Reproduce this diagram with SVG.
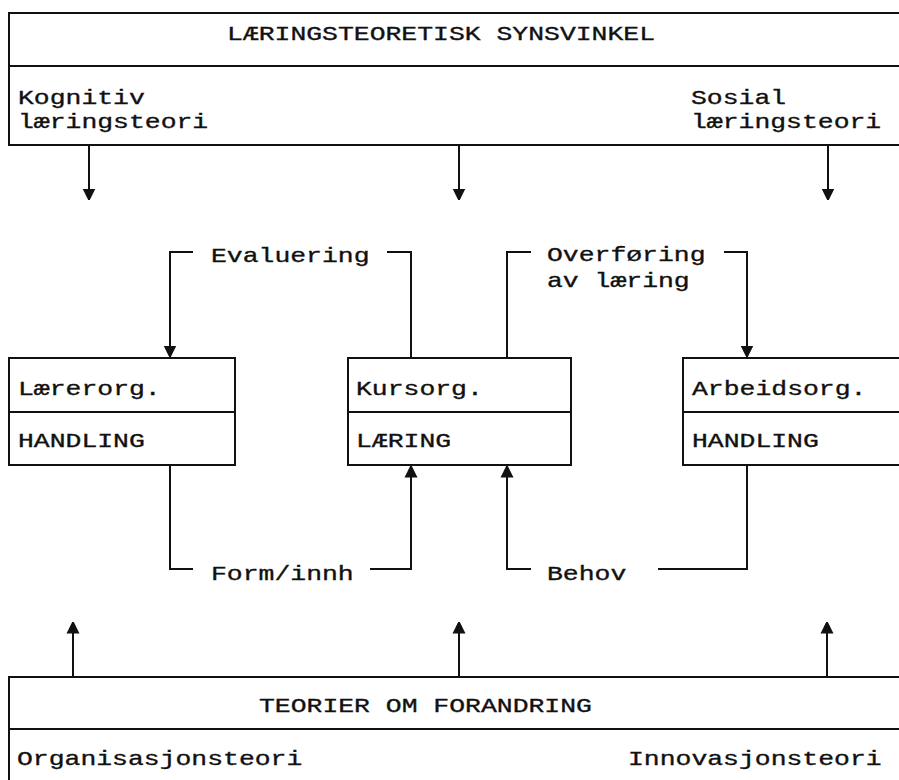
<svg xmlns="http://www.w3.org/2000/svg" width="899" height="780" viewBox="0 0 899 780">
  <style>
    .box { fill: #fff; stroke: #111; stroke-width: 2; }
    .rule { stroke: #111; stroke-width: 2; fill: none; }
    .wire { stroke: #111; stroke-width: 2; fill: none; }
    text { font-family: "Liberation Mono", "Courier New", monospace; font-size: 21px; fill: #111; stroke: #111; stroke-width: 0.35px; }
  </style>
  <defs>
    <marker id="head" viewBox="0 0 12 14" refX="11.5" refY="7" markerWidth="12" markerHeight="14" markerUnits="userSpaceOnUse" orient="auto">
      <path d="M0 0.5 L0 13.5 L10.6 8.3 Q12 7 10.6 5.7 Z" fill="#111"/>
    </marker>
  </defs>
  <rect width="899" height="780" fill="#fff"/>

  <!-- Learning theory perspective -->
  <g id="top-frame">
    <rect class="box" x="9" y="13" width="900" height="132"/>
    <line class="rule" x1="9" y1="66" x2="905" y2="66"/>
    <text x="227" y="40" textLength="428" lengthAdjust="spacingAndGlyphs">LÆRINGSTEORETISK SYNSVINKEL</text>
    <text x="18" y="104" textLength="126.8" lengthAdjust="spacingAndGlyphs">Kognitiv</text>
    <text x="18" y="128" textLength="190.2" lengthAdjust="spacingAndGlyphs">læringsteori</text>
    <text x="691" y="104" textLength="95.1" lengthAdjust="spacingAndGlyphs">Sosial</text>
    <text x="691" y="128" textLength="190.2" lengthAdjust="spacingAndGlyphs">læringsteori</text>
  </g>

  <g id="laererorg">
    <rect class="box" x="9" y="358" width="226" height="107"/>
    <line class="rule" x1="9" y1="412" x2="235" y2="412"/>
    <text x="18" y="395" textLength="142.7" lengthAdjust="spacingAndGlyphs">Lærerorg.</text>
    <text x="18" y="447" textLength="126.8" lengthAdjust="spacingAndGlyphs">HANDLING</text>
  </g>

  <g id="kursorg">
    <rect class="box" x="348" y="358" width="223" height="107"/>
    <line class="rule" x1="348" y1="412" x2="571" y2="412"/>
    <text x="356" y="395" textLength="126.8" lengthAdjust="spacingAndGlyphs">Kursorg.</text>
    <text x="356" y="447" textLength="95.1" lengthAdjust="spacingAndGlyphs">LÆRING</text>
  </g>

  <g id="arbeidsorg">
    <rect class="box" x="683" y="358" width="226" height="107"/>
    <line class="rule" x1="683" y1="412" x2="905" y2="412"/>
    <text x="692" y="395" textLength="174.4" lengthAdjust="spacingAndGlyphs">Arbeidsorg.</text>
    <text x="692" y="447" textLength="126.8" lengthAdjust="spacingAndGlyphs">HANDLING</text>
  </g>

  <!-- Theories of change -->
  <g id="bottom-frame">
    <rect class="box" x="9" y="677" width="900" height="120"/>
    <line class="rule" x1="9" y1="729" x2="905" y2="729"/>
    <text x="259" y="712" textLength="332.9" lengthAdjust="spacingAndGlyphs">TEORIER OM FORANDRING</text>
    <text x="17" y="765" textLength="285.3" lengthAdjust="spacingAndGlyphs">Organisasjonsteori</text>
    <text x="628" y="765" textLength="253.6" lengthAdjust="spacingAndGlyphs">Innovasjonsteori</text>
  </g>

  <g id="connectors">
    <!-- from top frame -->
    <line class="wire" x1="89" y1="145" x2="89" y2="200" marker-end="url(#head)"/>
    <line class="wire" x1="459" y1="145" x2="459" y2="200" marker-end="url(#head)"/>
    <line class="wire" x1="828" y1="145" x2="828" y2="200" marker-end="url(#head)"/>
    <!-- from bottom frame -->
    <line class="wire" x1="73" y1="677" x2="73" y2="622" marker-end="url(#head)"/>
    <line class="wire" x1="459" y1="677" x2="459" y2="622" marker-end="url(#head)"/>
    <line class="wire" x1="827" y1="677" x2="827" y2="622" marker-end="url(#head)"/>

    <!-- Evaluering -->
    <polyline class="wire" points="411,358 411,252 387,252"/>
    <polyline class="wire" points="193,252 170,252 170,357" marker-end="url(#head)"/>
    <text x="211" y="262" textLength="158.5" lengthAdjust="spacingAndGlyphs">Evaluering</text>

    <!-- Overføring av læring -->
    <polyline class="wire" points="507,358 507,252 531,252"/>
    <polyline class="wire" points="724,252 747,252 747,357" marker-end="url(#head)"/>
    <text x="547" y="261" textLength="158.5" lengthAdjust="spacingAndGlyphs">Overføring</text>
    <text x="547" y="287" textLength="142.7" lengthAdjust="spacingAndGlyphs">av læring</text>

    <!-- Form/innh -->
    <polyline class="wire" points="170,465 170,569 193,569"/>
    <polyline class="wire" points="370,569 411,569 411,466" marker-end="url(#head)"/>
    <text x="211" y="580" textLength="142.7" lengthAdjust="spacingAndGlyphs">Form/innh</text>

    <!-- Behov -->
    <polyline class="wire" points="747,465 747,569 658,569"/>
    <polyline class="wire" points="531,569 507,569 507,466" marker-end="url(#head)"/>
    <text x="547" y="580" textLength="79.3" lengthAdjust="spacingAndGlyphs">Behov</text>
  </g>
</svg>
